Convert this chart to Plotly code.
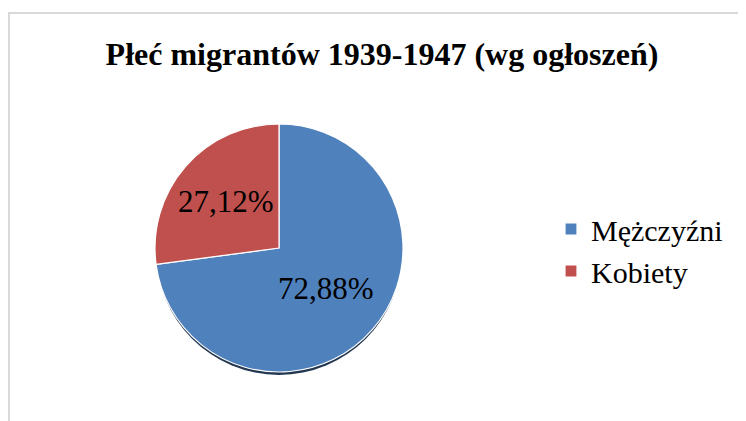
import plotly.graph_objects as go

categories = ["Mężczyźni", "Kobiety"]
values = [72.88, 27.12]
colors = ["#4F81BD", "#C0504D"]
title_text = "Płeć migrantów 1939-1947 (wg ogłoszeń)"

W, H = 746, 421
# page body has an 8px margin, so figure coordinates are screen - 8
cx, cy, r = 271, 240, 124

fig = go.Figure()
fig.add_trace(go.Pie(
    labels=categories,
    values=values,
    sort=False,
    direction="clockwise",
    rotation=0,
    marker=dict(colors=colors, line=dict(color="white", width=1.2)),
    texttemplate="%{percent:.2%}",
    textposition="inside",
    insidetextorientation="horizontal",
    textfont=dict(family="Liberation Serif", size=31, color="black"),
    domain=dict(x=[(cx - r) / W, (cx + r) / W], y=[(H - cy - r) / H, (H - cy + r) / H]),
    hoverinfo="label+percent",
))

# shadow under pie
fig.add_shape(type="circle", xref="paper", yref="paper", layer="below",
              x0=(cx - r + 1) / W, x1=(cx + r - 1) / W,
              y0=(H - cy - r - 3) / H, y1=(H - cy + r - 3) / H,
              fillcolor="#22364f", line=dict(width=0))
# chart frame
fig.add_shape(type="rect", xref="paper", yref="paper", layer="below",
              x0=1 / W, x1=1.2, y0=-0.2, y1=1 - 5 / H,
              line=dict(color="#d9d9d9", width=2), fillcolor="rgba(0,0,0,0)")

fig.update_layout(
    width=W, height=H,
    margin=dict(l=0, r=0, t=0, b=0),
    paper_bgcolor="white",
    separators=",.",
    title=dict(text="<b>" + title_text + "</b>", x=374 / W, xanchor="center",
               y=1 - 46 / H, yanchor="middle",
               font=dict(family="Liberation Serif", size=32, color="black")),
    legend=dict(x=543 / W, xanchor="left", y=1 - 242 / H, yanchor="middle",
                font=dict(family="Liberation Serif", size=30, color="black"),
                bgcolor="rgba(0,0,0,0)"),
    showlegend=True,
)

fig.write_html("out.html")
